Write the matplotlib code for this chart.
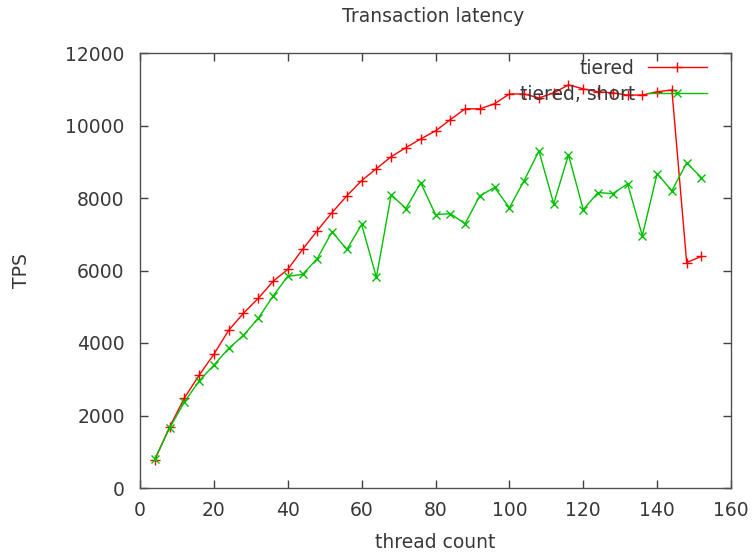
import matplotlib
matplotlib.use("Agg")
import matplotlib.pyplot as plt

threads = list(range(4, 153, 4))
tiered = [770, 1680, 2480, 3110, 3690, 4350, 4820, 5230, 5700, 6030,
          6580, 7100, 7600, 8060, 8480, 8810, 9140, 9390, 9630, 9850,
          10160, 10460, 10460, 10600, 10870, 10870, 10760, 10900, 11120, 11010,
          10930, 10900, 10840, 10840, 10930, 10980, 6220, 6390]
tiered_short = [800, 1650, 2370, 2950, 3390, 3850, 4210, 4680, 5290, 5840,
                5890, 6330, 7070, 6580, 7270, 5810, 8090, 7710, 8420, 7540,
                7570, 7290, 8060, 8290, 7730, 8480, 9300, 7840, 9190, 7680,
                8150, 8120, 8390, 6960, 8670, 8200, 8970, 8560]
xticks = [0, 20, 40, 60, 80, 100, 120, 140, 160]
yticks = [0, 2000, 4000, 6000, 8000, 10000, 12000]

plt.rcParams['font.family'] = ['DejaVu Sans']
fs = 13.5
tc = '#383838'
fig = plt.figure(figsize=(7.54, 5.57), dpi=100)
ax = fig.add_axes([140/754, 69/557, 591/754, 435/557])

ax.plot(threads, tiered, color='#ff0000', lw=1, marker='+', ms=7, mew=1,
        label='tiered')
ax.plot(threads, tiered_short, color='#00c000', lw=1, marker='x', ms=6, mew=1,
        label='tiered, short')

ax.set_xlim(0, 160)
ax.set_ylim(0, 12000)
ax.set_xticks(xticks)
ax.set_yticks(yticks)
ax.tick_params(direction='in', length=6, width=1, color='#404040',
               top=True, right=True, labelsize=fs, labelcolor=tc)
ax.tick_params(axis='y', pad=11)
ax.tick_params(axis='x', pad=9)
for s in ax.spines.values():
    s.set_color('#505050')
    s.set_linewidth(1)

ax.set_xlabel('thread count', fontsize=fs, color=tc, labelpad=10)
ax.set_ylabel('TPS', fontsize=fs, color=tc, labelpad=25)
fig.text(433/754, 1 - 17/557, 'Transaction latency', ha='center', va='center',
         fontsize=fs, color=tc)

leg = ax.legend(loc='upper right', bbox_to_anchor=(1 - 24/591, 1 - 6/435),
                frameon=False, markerfirst=False, handlelength=3.15,
                handletextpad=0.7, labelspacing=0.35, fontsize=fs,
                borderaxespad=0, borderpad=0)
for t in leg.get_texts():
    t.set_color(tc)

fig.savefig('out.png', dpi=100)
